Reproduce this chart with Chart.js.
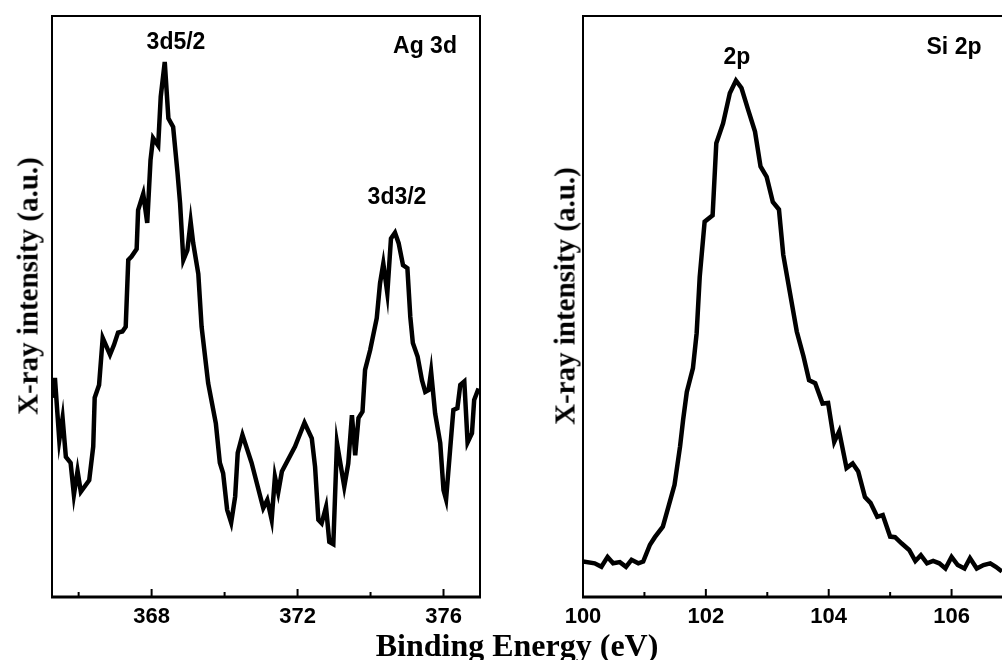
<!DOCTYPE html>
<html>
<head>
<meta charset="utf-8">
<script src="https://cdn.jsdelivr.net/npm/chart.js@4.4.1/dist/chart.umd.min.js"></script>
<style>
    html, body { margin: 0; padding: 0; background: #fff; overflow: hidden; width: 1002px; height: 660px; }
    #wrap { position: relative; width: 1002px; height: 660px; overflow: hidden; }
    canvas { position: absolute; top: 0; }
    #agChart { left: 0; }
    #siChart { left: 500px; }
    .label { position: absolute; font: bold 23px "Liberation Sans", Arial, sans-serif; line-height: 23px; color: #000; white-space: nowrap; transform: translateX(-50%); }
    .ytitle { position: absolute; font: bold 29px "Liberation Serif", "Times New Roman", serif; line-height: 29px; color: #000; white-space: nowrap; transform: translate(-50%, -50%) rotate(-90deg); }
    .xtitle { position: absolute; font: bold 32px "Liberation Serif", "Times New Roman", serif; line-height: 32px; color: #000; white-space: nowrap; transform: translateX(-50%); }
</style>
</head>
<body>
<div id="wrap">
    <canvas id="agChart" width="500" height="660"></canvas>
    <canvas id="siChart" width="540" height="660"></canvas>

    <div class="ytitle" style="left:28px; top:286px;">X-ray intensity (a.u.)</div>
    <div class="ytitle" style="left:565px; top:296px;">X-ray intensity (a.u.)</div>
    <div class="xtitle" style="left:517px; top:629px;">Binding Energy (eV)</div>

    <div class="label" style="left:176px; top:30px;">3d5/2</div>
    <div class="label" style="left:425px; top:34px;">Ag 3d</div>
    <div class="label" style="left:397px; top:185px;">3d3/2</div>
    <div class="label" style="left:737px; top:45px;">2p</div>
    <div class="label" style="left:954px; top:35px;">Si 2p</div>
</div>

<script>
// ---- Ag 3d spectrum (binding energy in eV, intensity in a.u.) ----
const agEnergy = [
    365.28, 365.35, 365.47, 365.56, 365.65, 365.78, 365.87, 365.97, 366.06, 366.29,
    366.40, 366.44, 366.56, 366.66, 366.86, 366.97, 367.08, 367.20, 367.29, 367.36,
    367.45, 367.59, 367.63, 367.77, 367.88, 367.97, 368.04, 368.18, 368.25, 368.36,
    368.46, 368.59, 368.71, 368.78, 368.87, 368.98, 369.07, 369.14, 369.28, 369.37,
    369.55, 369.76, 369.87, 369.96, 370.07, 370.18, 370.29, 370.36, 370.49, 370.74,
    371.06, 371.17, 371.29, 371.38, 371.47, 371.57, 371.93, 372.19, 372.39, 372.48,
    372.57, 372.66, 372.78, 372.87, 372.98, 373.08, 373.28, 373.39, 373.49, 373.58,
    373.67, 373.78, 373.85, 373.99, 374.17, 374.26, 374.35, 374.46, 374.56, 374.67,
    374.77, 374.89, 375.01, 375.09, 375.16, 375.29, 375.41, 375.50, 375.59, 375.66,
    375.77, 375.91, 376.00, 376.07, 376.18, 376.27, 376.38, 376.46, 376.57, 376.66,
    376.78, 376.84, 376.96
];
const agIntensity = [
    34.3, 37.7, 27.0, 30.8, 24.1, 23.1, 17.6, 21.7, 18.1, 20.1,
    25.9, 34.3, 36.5, 44.6, 41.7, 43.4, 45.5, 45.7, 46.5, 58.0,
    58.6, 59.9, 66.6, 69.4, 64.4, 75.2, 79.0, 77.7, 86.1, 92.1,
    82.4, 80.9, 73.0, 67.8, 58.0, 59.7, 64.6, 60.9, 55.6, 46.5,
    36.8, 29.9, 23.1, 21.3, 15.0, 12.8, 17.3, 24.8, 27.9, 23.1,
    15.3, 16.7, 13.3, 20.7, 18.0, 21.6, 25.9, 30.0, 27.3, 22.4,
    13.3, 12.7, 15.5, 9.5, 9.1, 26.5, 19.0, 23.0, 31.3, 24.4,
    30.8, 31.9, 39.1, 42.5, 48.0, 54.0, 57.4, 52.3, 61.7, 62.7,
    60.9, 57.1, 56.6, 48.2, 43.7, 41.4, 37.3, 35.3, 35.6, 38.8,
    31.6, 26.5, 18.4, 16.8, 25.3, 32.2, 32.5, 36.5, 37.1, 26.6,
    28.2, 33.9, 35.9
];
const agRange = [365.27, 377.0];
const agTickValues = [366, 368, 370, 372, 374, 376];
const agTickLabels = ['', '368', '', '372', '', '376'];

// ---- Si 2p spectrum ----
const siEnergy = [
    100.00, 100.19, 100.30, 100.40, 100.49, 100.60, 100.70, 100.79, 100.90, 100.98,
    101.09, 101.17, 101.30, 101.39, 101.49, 101.58, 101.63, 101.69, 101.79, 101.85,
    101.90, 101.98, 102.11, 102.17, 102.28, 102.39, 102.49, 102.58, 102.69, 102.80,
    102.89, 102.99, 103.09, 103.19, 103.26, 103.37, 103.48, 103.59, 103.68, 103.78,
    103.90, 103.99, 104.09, 104.17, 104.29, 104.39, 104.48, 104.59, 104.68, 104.79,
    104.88, 105.00, 105.08, 105.19, 105.31, 105.41, 105.50, 105.60, 105.70, 105.80,
    105.90, 106.00, 106.10, 106.21, 106.30, 106.41, 106.52, 106.63, 106.72, 106.82
];
const siIntensity = [
    6.1, 5.8, 5.2, 6.9, 5.8, 6.0, 5.2, 6.4, 5.8, 6.1,
    9.0, 10.3, 12.1, 15.5, 19.3, 25.9, 30.5, 35.3, 39.4, 45.4,
    55.1, 64.6, 65.7, 78.1, 81.5, 86.7, 88.9, 87.6, 83.8, 80.1,
    74.1, 72.3, 68.0, 66.7, 58.9, 52.3, 45.7, 41.4, 37.3, 36.8,
    33.3, 33.4, 26.7, 28.5, 22.2, 23.0, 21.6, 17.2, 16.2, 13.8,
    14.1, 10.4, 10.3, 9.2, 8.1, 6.2, 7.2, 5.8, 6.2, 5.8,
    4.9, 6.9, 5.5, 4.9, 6.7, 4.9, 5.5, 5.8, 5.2, 4.4
];
const siRange = [100, 107];
const siTickValues = [100, 101, 102, 103, 104, 105, 106, 107];
const siTickLabels = ['100', '', '102', '', '104', '', '106', ''];

const intensityRange = [0, 100];

document.addEventListener('DOMContentLoaded', function() {
    makePanel('agChart', agEnergy, agIntensity, agRange, agTickValues, agTickLabels,
        { left: 52, right: 20, top: 16, bottom: 0 });
    makePanel('siChart', siEnergy, siIntensity, siRange, siTickValues, siTickLabels,
        { left: 83, right: 27, top: 16, bottom: 0 });
});

// frame around the plot area plus inward tick marks
const framePlugin = {
    id: 'frame',
    afterDraw(chart, args, opts) {
        const ctx = chart.ctx;
        const a = chart.chartArea;
        const xs = chart.scales.x;
        ctx.save();
        ctx.strokeStyle = '#000';
        ctx.lineWidth = 2;
        ctx.strokeRect(a.left, a.top, a.right - a.left, a.bottom - a.top);
        ctx.lineWidth = 3;
        ctx.beginPath();
        ctx.moveTo(a.left - 1, a.bottom);
        ctx.lineTo(a.right + 1, a.bottom);
        ctx.stroke();

        ctx.lineWidth = 2;
        opts.values.forEach(function(v, i) {
            const x = xs.getPixelForValue(v);
            const len = opts.labels[i] ? 8 : 5;
            ctx.beginPath();
            ctx.moveTo(x, a.bottom);
            ctx.lineTo(x, a.bottom - len);
            ctx.stroke();
        });
        ctx.restore();
    }
};

function makePanel(id, xs, ys, range, tickValues, tickLabels, padding) {
    const points = xs.map((x, i) => ({ x: x, y: ys[i] }));

    new Chart(document.getElementById(id), {
        type: 'line',
        data: {
            datasets: [{
                data: points,
                borderColor: '#000',
                borderWidth: 4.5,
                pointRadius: 0,
                tension: 0,
                fill: false
            }]
        },
        options: {
            responsive: false,
            animation: false,
            devicePixelRatio: 1,
            layout: { padding: padding },
            plugins: {
                legend: { display: false },
                tooltip: { enabled: false },
                frame: { values: tickValues, labels: tickLabels }
            },
            scales: {
                x: {
                    type: 'linear',
                    min: range[0],
                    max: range[1],
                    afterBuildTicks: function(scale) {
                        scale.ticks = tickValues.map(v => ({ value: v }));
                    },
                    afterFit: function(scale) {
                        scale.height = 63;
                    },
                    grid: { display: false, drawTicks: false },
                    border: { display: false },
                    ticks: {
                        autoSkip: false,
                        maxRotation: 0,
                        padding: 7,
                        color: '#000',
                        font: { family: '"Liberation Sans", Arial, sans-serif', size: 22, weight: 'bold' },
                        callback: function(value, index) {
                            return tickLabels[index];
                        }
                    }
                },
                y: {
                    display: false,
                    min: intensityRange[0],
                    max: intensityRange[1]
                }
            }
        },
        plugins: [framePlugin]
    });
}
</script>
</body>
</html>
